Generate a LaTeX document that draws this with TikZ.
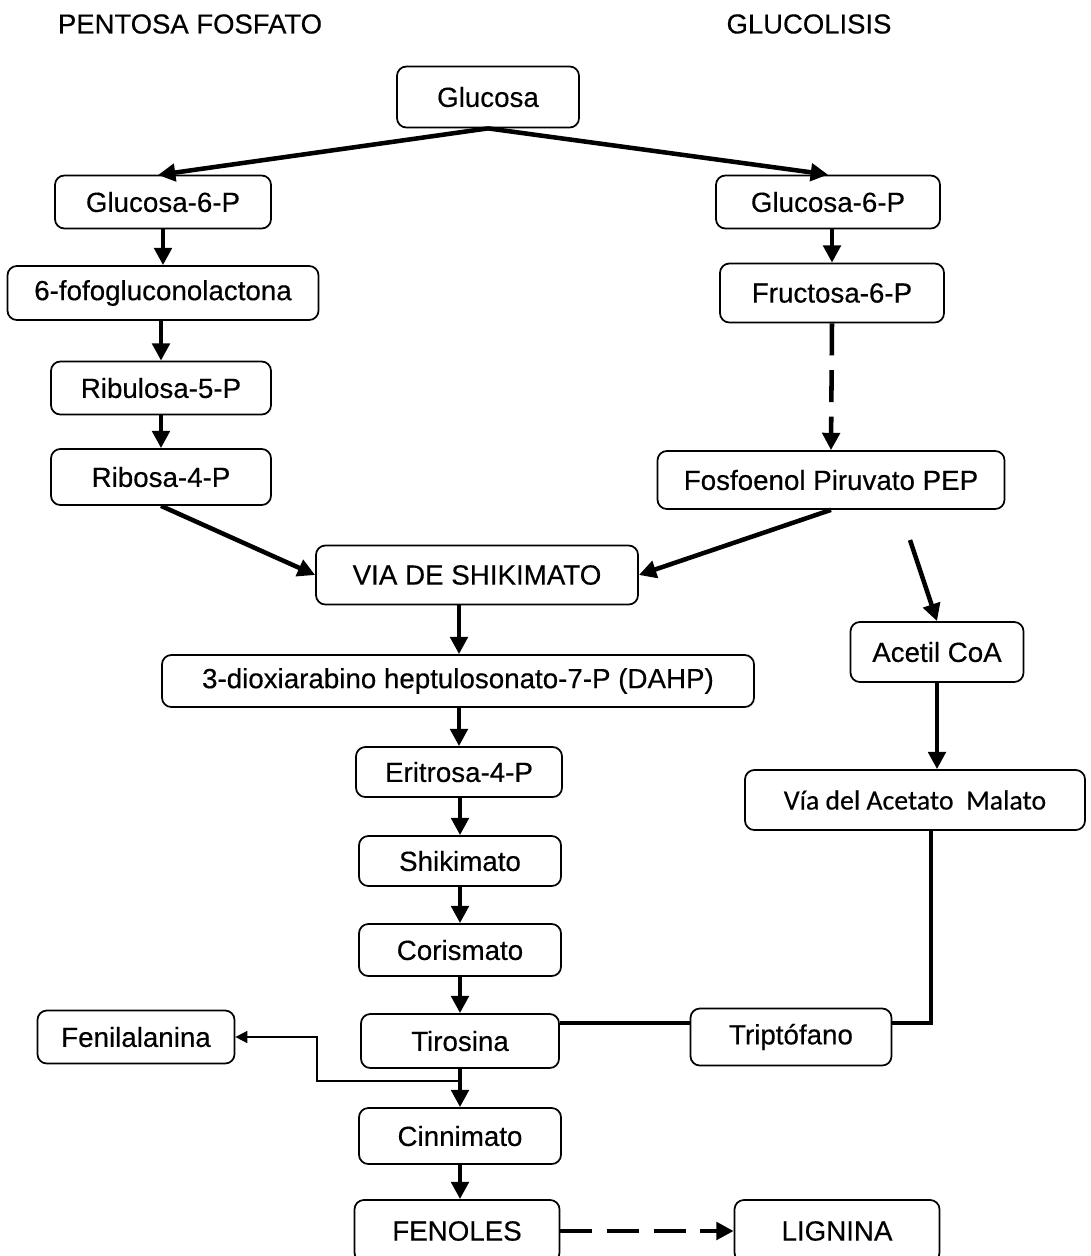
\documentclass[tikz,border=0pt]{standalone}
\usepackage{fontspec}
\setmainfont{Liberation Sans}[FakeBold=0.35]
\newfontfamily\calib{Carlito}[FakeBold=0.35]
\usetikzlibrary{arrows.meta}
\begin{document}
\begin{tikzpicture}[x=0.75pt,y=-0.75pt,
  box/.style={draw,line width=1.3pt,rounded corners=7pt,inner sep=0pt,align=center,font=\fontsize{20.8}{24}\selectfont},
  title/.style={inner sep=0pt,font=\fontsize{20.6}{24}\selectfont},
  conn/.style={line width=3.4pt},
  arr/.style={conn,-{Triangle[length=13pt,width=13pt]}},
  darr/.style={arr,dash pattern=on 24pt off 11pt},
  thinarr/.style={line width=1.2pt,-{Triangle[length=9pt,width=9pt]}}]
\useasboundingbox (0,0) rectangle (1091,1256);
\clip (0,0) rectangle (1091,1256);
\fill[white] (0,0) rectangle (1091,1256);
% titles
\node[title] (tpf) at (190,24) {PENTOSA FOSFATO};
\node[title] (tgl) at (809,24) {GLUCOLISIS};
% boxes
\node[box,minimum width=136.5pt,minimum height=45.75pt] (glc) at (488,97) {Glucosa};
\node[box,minimum width=162pt,minimum height=39.75pt] (g6pL) at (163,202) {Glucosa-6-P};
\node[box,minimum width=233.25pt,minimum height=40.5pt] (fofo) at (163,293) {6-fofogluconolactona};
\node[box,minimum width=165pt,minimum height=39.75pt] (rib5) at (161,388) {Ribulosa-5-P};
\node[box,minimum width=165pt,minimum height=42pt] (rib4) at (161,477) {Ribosa-4-P};
\node[box,minimum width=168pt,minimum height=39.75pt] (g6pR) at (828,202) {Glucosa-6-P};
\node[box,minimum width=168pt,minimum height=44.25pt] (fru) at (832,293) {Fructosa-6-P};
\node[box,minimum width=260.25pt,minimum height=43.5pt] (pep) at (831,480) {Fosfoenol Piruvato PEP};
\node[box,minimum width=241.5pt,minimum height=44.25pt] (via) at (477,575) {VIA DE SHIKIMATO};
\node[box,minimum width=444pt,minimum height=39pt] (dahp) at (458,681) {3-dioxiarabino heptulosonato-7-P (DAHP)};
\node[box,minimum width=154.5pt,minimum height=37.5pt] (eri) at (459,772) {Eritrosa-4-P};
\node[box,minimum width=151.5pt,minimum height=37.5pt] (shik) at (460,861) {Shikimato};
\node[box,minimum width=151.5pt,minimum height=39pt] (cor) at (460,950) {Corismato};
\node[box,minimum width=148.5pt,minimum height=40.5pt] (tir) at (460,1041) {Tirosina};
\node[box,minimum width=147.75pt,minimum height=39.75pt] (fen) at (136,1037) {Fenilalanina};
\node[box,minimum width=150.75pt,minimum height=42.75pt] (trp) at (791,1037) {Triptófano};
\node[box,minimum width=151.5pt,minimum height=42pt] (cin) at (460,1136) {Cinnimato};
\node[box,minimum width=153.75pt,minimum height=46.5pt] (fenoles) at (457,1231) {FENOLES};
\node[box,minimum width=153.75pt,minimum height=46.5pt] (lig) at (837,1231) {LIGNINA};
\node[box,minimum width=129.75pt,minimum height=45pt] (acet) at (937,652) {Acetil CoA};
\node[box,minimum width=255pt,minimum height=45pt,font=\calib\fontsize{20.8}{24}\selectfont] (viaAM) at (915,800) {Vía del Acetato\ \ Malato};
% helper coordinates
\coordinate (g6pLin) at (158,175);
\coordinate (pepout) at (910,540);
\coordinate (trpcorner) at (931,1023);
\coordinate (br) at (460,1081);
\coordinate (brx) at (317,1081);
% connectors
\draw[arr] (glc.south) -- (g6pLin);
\draw[arr] (glc.south) -- (g6pR.north);
\draw[arr] (g6pL) -- (fofo);
\draw[arr] (fofo.south -| rib5) -- (rib5.north);
\draw[arr] (rib5) -- (rib4);
\draw[arr] (g6pR.south -| fru) -- (fru.north);
\draw[darr] (fru.south) -- (pep.north);
\draw[arr] (rib4.south) -- (via.west);
\draw[arr] (pep.south) -- (via.east);
\draw[arr] (pepout) -- (acet.north);
\draw[arr] (acet.south) -- (acet.south |- viaAM.north);
\draw[conn] (viaAM.south -| trpcorner) -- (trpcorner) -- (trp.east |- trpcorner);
\draw[conn] (tir.east |- trpcorner) -- (trp.west |- trpcorner);
\draw[arr] (via.south -| eri) -- (dahp.north -| eri);
\draw[arr] (dahp.south -| eri) -- (eri.north);
\draw[arr] (eri.south -| shik) -- (shik.north);
\draw[arr] (shik) -- (cor);
\draw[arr] (cor) -- (tir);
\draw[arr] (tir) -- (cin);
\draw[arr] (cin.south -| tir) -- (fenoles.north -| tir);
\draw[thinarr] (br) -- (brx) -- (brx |- fen.east) -- (fen.east);
\draw[darr] (fenoles.east) -- (lig.west);
\end{tikzpicture}
\end{document}
